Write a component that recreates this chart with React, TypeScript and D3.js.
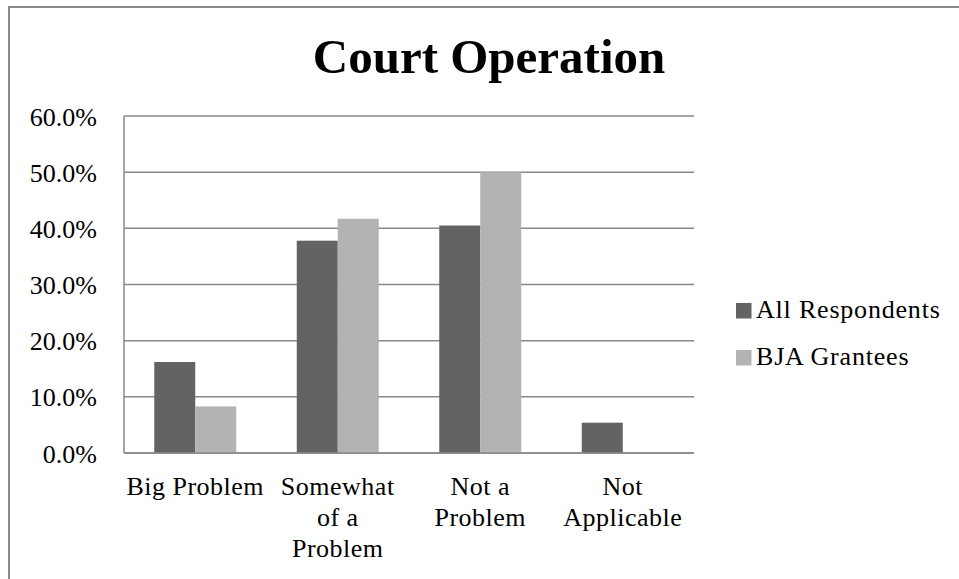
import React from "react";
import * as d3 from "d3";

const categories: string[][] = [
  ["Big Problem"],
  ["Somewhat", "of a", "Problem"],
  ["Not a", "Problem"],
  ["Not", "Applicable"],
];
const categoryKeys = ["Big Problem", "Somewhat of a Problem", "Not a Problem", "Not Applicable"];
const seriesNames = ["All Respondents", "BJA Grantees"];
const allRespondents = [0.162, 0.378, 0.405, 0.054];
const bjaGrantees = [0.083, 0.417, 0.5, 0];
const yTicks = [0, 0.1, 0.2, 0.3, 0.4, 0.5, 0.6];
const title = "Court Operation";

const colors = ["#636363", "#b3b3b3"];
const FONT = "'Liberation Serif', 'Times New Roman', serif";

export default function App() {
  const W = 959;
  const H = 579;
  const left = 124, right = 694, top = 116, bottom = 453;

  const x = d3
    .scaleBand<string>()
    .domain(categoryKeys)
    .range([left, right])
    .paddingInner(0.4246)
    .paddingOuter(0.2123);
  const xs = d3.scaleBand<string>().domain(seriesNames).range([0, x.bandwidth()]);
  const y = d3.scaleLinear().domain([0, 0.6]).range([bottom, top]);
  const fmt = d3.format(".1%");
  const seriesValues = [allRespondents, bjaGrantees];

  return (
    <div style={{ position: "absolute", left: 0, top: 0 }}>
      <svg width={W} height={H} style={{ display: "block", background: "#fff" }}>
        <rect x={9} y={7} width={W + 10} height={H + 10} fill="#fff" stroke="#898989" strokeWidth={2} />
        <text
          x={489}
          y={73}
          textAnchor="middle"
          fontFamily={FONT}
          fontWeight="bold"
          fontSize={49}
          fill="#000"
        >
          {title}
        </text>
        {yTicks.map((t) => (
          <g key={t}>
            <line x1={left} x2={right} y1={y(t)} y2={y(t)} stroke="#888" strokeWidth={1.5} />
            <text
              x={97}
              y={y(t) + 9.5}
              textAnchor="end"
              fontFamily={FONT}
              fontSize={26}
              fill="#000"
            >
              {fmt(t)}
            </text>
          </g>
        ))}
        <line x1={left} x2={left} y1={top} y2={bottom} stroke="#888" strokeWidth={1.5} />
        {seriesNames.map((s, si) =>
          categoryKeys.map((c, ci) => {
            const v = seriesValues[si][ci];
            if (!v) return null;
            return (
              <rect
                key={s + c}
                x={(x(c) as number) + (xs(s) as number)}
                y={y(v)}
                width={xs.bandwidth()}
                height={y(0) - y(v)}
                fill={colors[si]}
              />
            );
          })
        )}
        <line x1={left} x2={right} y1={bottom} y2={bottom} stroke="#888" strokeWidth={1.5} />
        {categoryKeys.map((c, ci) => (
          <text
            key={c}
            x={(x(c) as number) + x.bandwidth() / 2}
            y={495}
            textAnchor="middle"
            fontFamily={FONT}
            fontSize={26}
            letterSpacing={0.5}
            fill="#000"
          >
            {categories[ci].map((line, li) => (
              <tspan key={li} x={(x(c) as number) + x.bandwidth() / 2} dy={li === 0 ? 0 : 31}>
                {line}
              </tspan>
            ))}
          </text>
        ))}
        {seriesNames.map((s, si) => (
          <g key={s} transform={`translate(736, ${303 + si * 47})`}>
            <rect x={0} y={0} width={15.5} height={15.5} fill={colors[si]} />
            <text x={20} y={15} fontFamily={FONT} fontSize={26} letterSpacing={0.8} fill="#000">
              {s}
            </text>
          </g>
        ))}
      </svg>
    </div>
  );
}
